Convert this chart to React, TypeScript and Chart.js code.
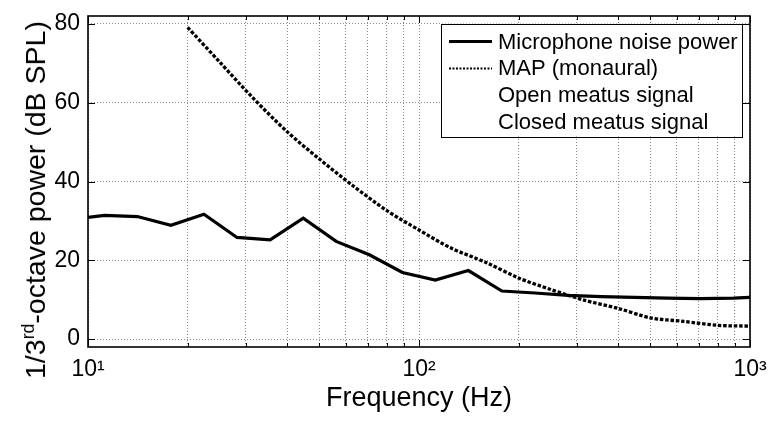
import React, { useEffect, useRef } from "react";
import { Chart, registerables } from "chart.js";

Chart.register(...registerables);

// ---- data ----
const NOISE_FREQ = [10, 11.2, 14.1, 17.8, 22.4, 28.2, 35.5, 44.7, 56.2, 70.8, 89.1, 112, 141, 178, 224, 282, 355, 447, 562, 708, 891, 1000];
const NOISE_DB = [30.9, 31.4, 31.1, 28.9, 31.7, 25.8, 25.2, 30.7, 24.8, 21.4, 16.9, 15.0, 17.4, 12.2, 11.7, 11.1, 10.8, 10.6, 10.4, 10.3, 10.4, 10.6];

const MAP_FREQ = [20, 25, 31.5, 40, 50, 63, 80, 100, 125, 160, 200, 250, 315, 400, 500, 630, 800, 1000];
const MAP_DB = [79.1, 70.3, 61.2, 52.6, 45.7, 39.0, 32.6, 27.7, 23.1, 19.4, 15.5, 12.6, 9.9, 7.8, 5.4, 4.5, 3.5, 3.3];

const SERIES_LABELS = ["Microphone noise power", "MAP (monaural)", "Open meatus signal", "Closed meatus signal"];

const X_TICKS = [10, 20, 30, 40, 50, 60, 70, 80, 90, 100, 200, 300, 400, 500, 600, 700, 800, 900, 1000];
const X_MAJOR = [10, 100, 1000];
const X_MAJOR_LABELS = ["10\u00B9", "10\u00B2", "10\u00B3"];
const Y_TICKS = [0, 20, 40, 60, 80];
const X_MIN = 10;
const X_MAX = 1000;
const Y_MIN = -2;
const Y_MAX = 82;

const X_TITLE = "Frequency (Hz)";

const FONT = "'Liberation Sans', Arial, Helvetica, sans-serif";

const pts = (xs: number[], ys: number[]) => xs.map((x, i) => ({ x, y: ys[i] }));

const framePlugin = {
  id: "matlabFrame",
  afterDatasetsDraw(chart: any) {
    const { ctx, chartArea } = chart;
    const { left, right, top, bottom } = chartArea;
    const xs = chart.scales.x;
    const ys = chart.scales.y;
    ctx.save();
    ctx.strokeStyle = "#000";
    ctx.lineWidth = 1;
    ctx.setLineDash([]);
    ctx.beginPath();
    X_TICKS.forEach((v) => {
      const px = Math.round(xs.getPixelForValue(v)) + 0.5;
      const len = X_MAJOR.includes(v) ? 7 : 4;
      ctx.moveTo(px, bottom);
      ctx.lineTo(px, bottom - len);
      ctx.moveTo(px, top);
      ctx.lineTo(px, top + len);
    });
    Y_TICKS.forEach((v) => {
      const py = Math.round(ys.getPixelForValue(v)) + 0.5;
      ctx.moveTo(left, py);
      ctx.lineTo(left + 7, py);
      ctx.moveTo(right, py);
      ctx.lineTo(right - 7, py);
    });
    ctx.stroke();
    ctx.lineWidth = 1.6;
    ctx.strokeRect(left, top, right - left, bottom - top);
    ctx.restore();
  },
};

const legendPlugin = {
  id: "boxLegend",
  afterDraw(chart: any) {
    const { ctx, chartArea } = chart;
    const boxW = 301;
    const boxH = 113;
    const boxRight = chartArea.right - 8;
    const boxLeft = boxRight - boxW;
    const boxTop = chartArea.top + 7.5;
    const rowH = 26.9;
    ctx.save();
    ctx.fillStyle = "#fff";
    ctx.fillRect(boxLeft, boxTop, boxW, boxH);
    ctx.strokeStyle = "#000";
    ctx.lineWidth = 1;
    ctx.setLineDash([]);
    ctx.strokeRect(Math.round(boxLeft) + 0.5, Math.round(boxTop) + 0.5, boxW, boxH);
    chart.data.datasets.forEach((ds: any, i: number) => {
      const cy = boxTop + 18 + i * rowH;
      ctx.save();
      ctx.strokeStyle = ds.borderColor;
      ctx.lineWidth = i === 1 ? 2 : ds.borderWidth;
      ctx.setLineDash(i === 1 ? [2, 1.5] : ds.borderDash || []);
      ctx.beginPath();
      ctx.moveTo(boxLeft + 8, cy);
      ctx.lineTo(boxLeft + 51, cy);
      ctx.stroke();
      ctx.restore();
      ctx.fillStyle = "#000";
      ctx.font = `22px ${FONT}`;
      ctx.textBaseline = "middle";
      ctx.textAlign = "left";
      ctx.fillText(ds.label, boxLeft + 57, cy + 1);
    });
    ctx.restore();
  },
};

export default function App() {
  const canvasRef = useRef<HTMLCanvasElement | null>(null);

  useEffect(() => {
    const canvas = canvasRef.current;
    if (!canvas) return;
    const chart = new Chart(canvas, {
      type: "line",
      data: {
        datasets: [
          {
            label: SERIES_LABELS[0],
            data: pts(NOISE_FREQ, NOISE_DB),
            borderColor: "#000",
            borderWidth: 3.2,
            pointRadius: 0,
            tension: 0,
            fill: false,
          },
          {
            label: SERIES_LABELS[1],
            data: pts(MAP_FREQ, MAP_DB),
            borderColor: "#000",
            borderWidth: 3.3,
            borderDash: [3.5, 1.8],
            pointRadius: 0,
            tension: 0.3,
            fill: false,
          },
          {
            label: SERIES_LABELS[2],
            data: [],
            borderColor: "#fff",
            borderWidth: 2,
            pointRadius: 0,
          },
          {
            label: SERIES_LABELS[3],
            data: [],
            borderColor: "#fff",
            borderWidth: 2,
            pointRadius: 0,
          },
        ],
      },
      options: {
        responsive: false,
        animation: false,
        devicePixelRatio: 1,
        layout: { padding: { top: 16, right: 21, left: 0, bottom: 0 } },
        plugins: { legend: { display: false }, tooltip: { enabled: false } },
        scales: {
          x: {
            type: "logarithmic",
            min: X_MIN,
            max: X_MAX,
            afterBuildTicks: (s: any) => {
              s.ticks = X_TICKS.map((v) => ({ value: v }));
            },
            afterFit: (s: any) => {
              s.height = 74;
              s.paddingLeft = 0;
              s.paddingRight = 0;
            },
            grid: { color: "#8a8a8a", lineWidth: 1, drawTicks: false },
            border: { display: false, dash: [1, 2] },
            ticks: {
              autoSkip: false,
              maxRotation: 0,
              padding: 9,
              color: "#000",
              font: { family: FONT, size: 23 },
              callback: (v: any) => {
                const i = X_MAJOR.indexOf(Number(v));
                return i >= 0 ? X_MAJOR_LABELS[i] : "";
              },
            },
            title: {
              display: true,
              text: X_TITLE,
              color: "#000",
              font: { family: FONT, size: 27 },
              padding: { top: 0, bottom: 6 },
            },
          },
          y: {
            type: "linear",
            min: Y_MIN,
            max: Y_MAX,
            afterBuildTicks: (s: any) => {
              s.ticks = Y_TICKS.map((v) => ({ value: v }));
            },
            afterFit: (s: any) => {
              s.width = 88;
              s.paddingTop = 0;
              s.paddingBottom = 0;
            },
            grid: { color: "#8a8a8a", lineWidth: 1, drawTicks: false },
            border: { display: false, dash: [1, 2] },
            ticks: {
              padding: 8,
              color: "#000",
              font: { family: FONT, size: 23 },
            },
          },
        },
      },
      plugins: [framePlugin, legendPlugin],
    } as any);
    return () => chart.destroy();
  }, []);

  return (
    <div style={{ position: "fixed", left: 0, top: 0, width: 771, height: 421, background: "#fff" }}>
      <canvas ref={canvasRef} width={771} height={421} style={{ width: 771, height: 421, display: "block" }} />
      <div
        style={{
          position: "absolute",
          left: 35,
          top: 200,
          transform: "translate(-50%, -50%) rotate(-90deg)",
          whiteSpace: "nowrap",
          fontFamily: FONT,
          fontSize: 28.5,
          lineHeight: "30px",
          color: "#000",
        }}
      >
        1/3<sup style={{ fontSize: "0.62em", verticalAlign: "0.6em", lineHeight: 0 }}>rd</sup>-octave power (dB SPL)
      </div>
    </div>
  );
}
